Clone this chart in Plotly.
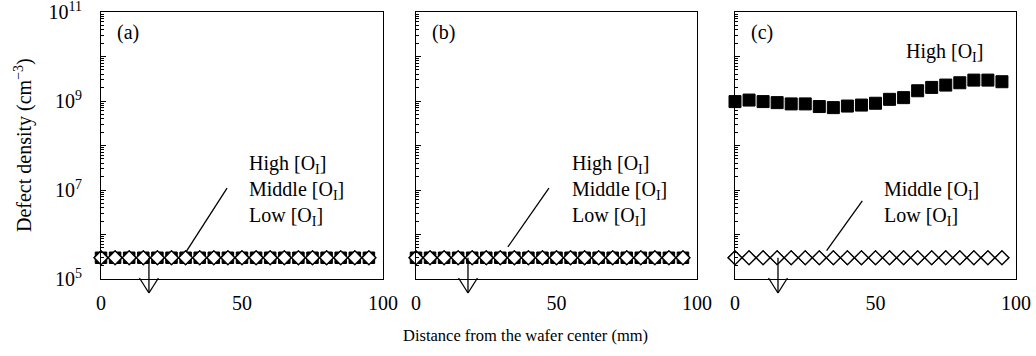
import math
import plotly.graph_objects as go

# ---------------- data ----------------
distance_mm = [0, 5, 10, 15, 20, 25, 30, 35, 40, 45, 50, 55, 60, 65, 70, 75, 80, 85, 90, 95]

a_high = [3.0e5, 3.0e5, 3.0e5, 3.0e5, 3.0e5, 3.0e5, 3.0e5, 3.0e5, 3.0e5, 3.0e5,
          3.0e5, 3.0e5, 3.0e5, 3.0e5, 3.0e5, 3.0e5, 3.0e5, 3.0e5, 3.0e5, 3.0e5]
a_middle = list(a_high)
a_low = list(a_high)

b_high = [3.0e5, 3.0e5, 3.0e5, 3.0e5, 3.0e5, 3.0e5, 3.0e5, 3.0e5, 3.0e5, 3.0e5,
          3.0e5, 3.0e5, 3.0e5, 3.0e5, 3.0e5, 3.0e5, 3.0e5, 3.0e5, 3.0e5, 3.0e5]
b_middle = list(b_high)
b_low = list(b_high)

c_high = [9.7e8, 1.05e9, 9.7e8, 9.2e8, 8.6e8, 8.6e8, 7.5e8, 7.1e8, 7.7e8, 8.1e8,
          8.9e8, 1.09e9, 1.19e9, 1.7e9, 2.02e9, 2.28e9, 2.57e9, 2.95e9, 2.95e9, 2.71e9]
c_middle = [3.0e5, 3.0e5, 3.0e5, 3.0e5, 3.0e5, 3.0e5, 3.0e5, 3.0e5, 3.0e5, 3.0e5,
            3.0e5, 3.0e5, 3.0e5, 3.0e5, 3.0e5, 3.0e5, 3.0e5, 3.0e5, 3.0e5, 3.0e5]
c_low = list(c_middle)

panel_labels = ["(a)", "(b)", "(c)"]
arrow_x_mm = [17, 18.5, 15.3]
arrow_from = [3.0e5, 3.0e5, 3.0e5]

x_range = [0, 100]
y_log_range = [5, 11]
x_tickvals = [0, 50, 100]
y_tickvals = [1e5, 1e6, 1e7, 1e8, 1e9, 1e10, 1e11]
y_ticktext = ["10<sup>5</sup>", "", "10<sup>7</sup>", "", "10<sup>9</sup>", "", "10<sup>11</sup>"]
y_minor = [k * 10 ** n for n in range(5, 11) for k in range(2, 10)]

FONT = "Liberation Serif, Times New Roman, serif"
FS = 20

# ---------------- layout geometry ----------------
W, H = 1036, 356
x_domains = [[101 / W, 383 / W], [416 / W, 697 / W], [735 / W, 1016 / W]]
y_domain = [1 - 279 / H, 1 - 12 / H]
pad = 1e-4

fig = go.Figure()

panels = [
    (a_high, a_middle, a_low),
    (b_high, b_middle, b_low),
    (c_high, c_middle, c_low),
]

for i, (hi, mid, lo) in enumerate(panels):
    sfx = "" if i == 0 else str(i + 1)
    xa, ya = "x" + sfx, "y" + sfx
    fig.add_trace(go.Scatter(
        x=distance_mm, y=hi, mode="markers", xaxis=xa, yaxis=ya,
        marker=dict(symbol="square", size=12 if i == 2 else 11.5, color="black",
                    line=dict(color="black", width=1)),
        cliponaxis=False, showlegend=False, name="High [OI]"))
    fig.add_trace(go.Scatter(
        x=distance_mm, y=mid, mode="markers", xaxis=xa, yaxis=ya,
        marker=dict(symbol="diamond", size=10.6, color="white",
                    line=dict(color="black", width=1.3)),
        cliponaxis=False, showlegend=False, name="Middle [OI]"))
    fig.add_trace(go.Scatter(
        x=distance_mm, y=lo, mode="markers", xaxis=xa, yaxis=ya,
        marker=dict(symbol="diamond", size=10.6, color="white",
                    line=dict(color="black", width=1.3)),
        cliponaxis=False, showlegend=False, name="Low [OI]"))

axis_common = dict(showline=True, linecolor="black", linewidth=1, mirror=True,
                   showgrid=False, zeroline=False, automargin=False)

for i in range(3):
    sfx = "" if i == 0 else str(i + 1)
    fig.update_layout(**{
        "xaxis" + sfx: dict(
            axis_common, domain=x_domains[i], range=[x_range[0], x_range[1] + 0.001],
            anchor="y" + sfx,
            tickmode="array", tickvals=x_tickvals, ticks="",
            ticklabelstandoff=6, ticklabeloverflow="allow",
            tickfont=dict(family=FONT, size=FS, color="black")),
        "yaxis" + sfx: dict(
            axis_common, domain=y_domain, type="log",
            range=[y_log_range[0] - pad, y_log_range[1] + pad],
            anchor="x" + sfx,
            tickmode="array", tickvals=y_tickvals, ticktext=y_ticktext,
            ticks="inside", ticklen=5, tickcolor="black", tickwidth=1,
            showticklabels=(i == 0), ticklabelstandoff=14, ticklabeloverflow="allow",
            minor=dict(tickmode="array", tickvals=y_minor, ticks="inside",
                       ticklen=3, tickcolor="black", tickwidth=1),
            tickfont=dict(family=FONT, size=FS, color="black")),
    })

shapes = []
annotations = []


def xfrac(v):
    return (v - x_range[0]) / (x_range[1] - x_range[0])


def yfrac(v):
    return (math.log10(v) - y_log_range[0]) / (y_log_range[1] - y_log_range[0])


line_style = dict(color="black", width=1.3)
# pointer lines (domain fractions of each panel)
pointer_lines = [
    (0.301, 0.101, 0.447, 0.340),
    (0.327, 0.120, 0.473, 0.340),
    (0.326, 0.106, 0.453, 0.293),
]
text_pos = [(0.518, 0.333), (0.548, 0.333), (0.523, 0.284)]
text_content = [
    "High [O<sub>I</sub>]<br>Middle [O<sub>I</sub>]<br>Low [O<sub>I</sub>]",
    "High [O<sub>I</sub>]<br>Middle [O<sub>I</sub>]<br>Low [O<sub>I</sub>]",
    "Middle [O<sub>I</sub>]<br>Low [O<sub>I</sub>]",
]

for i in range(3):
    sfx = "" if i == 0 else str(i + 1)
    xr, yr = "x" + sfx + " domain", "y" + sfx + " domain"
    # arrow: vertical shaft
    ax = xfrac(arrow_x_mm[i])
    y0 = yfrac(arrow_from[i])
    tip = -14 / 267.5
    arm_top = 1 / 267.5
    half = 9.5 / 282
    shapes.append(dict(type="line", xref=xr, yref=yr, x0=ax, x1=ax, y0=y0, y1=tip,
                       line=line_style, layer="above"))
    shapes.append(dict(type="line", xref=xr, yref=yr, x0=ax - half, x1=ax, y0=arm_top, y1=tip,
                       line=line_style, layer="above"))
    shapes.append(dict(type="line", xref=xr, yref=yr, x0=ax + half, x1=ax, y0=arm_top, y1=tip,
                       line=line_style, layer="above"))
    # pointer line
    px0, py0, px1, py1 = pointer_lines[i]
    shapes.append(dict(type="line", xref=xr, yref=yr, x0=px0, y0=py0, x1=px1, y1=py1,
                       line=line_style, layer="above"))
    # panel label
    annotations.append(dict(text=panel_labels[i], xref=xr, yref=yr, x=14 / 282, y=1 - 21 / 267.5,
                            xanchor="left", yanchor="middle", showarrow=False,
                            font=dict(family=FONT, size=FS, color="black")))
    # series text
    tx, ty = text_pos[i]
    annotations.append(dict(text=text_content[i], xref=xr, yref=yr, x=tx, y=ty,
                            xanchor="left", yanchor="middle", align="left", showarrow=False,
                            font=dict(family=FONT, size=FS, color="black")))

annotations.append(dict(text="High [O<sub>I</sub>]", xref="x3 domain", yref="y3 domain",
                        x=0.60, y=0.849, xanchor="left", yanchor="middle", showarrow=False,
                        font=dict(family=FONT, size=FS, color="black")))

annotations.append(dict(text="Defect density (cm<sup>\u22123</sup>)", xref="paper", yref="paper",
                        x=24 / W, y=1 - 145 / H, textangle=-90, xanchor="center", yanchor="middle",
                        showarrow=False, font=dict(family=FONT, size=20, color="black")))
annotations.append(dict(text="Distance from the wafer center (mm)", xref="paper", yref="paper",
                        x=525 / W, y=1 - 335 / H, xanchor="center", yanchor="middle",
                        showarrow=False, font=dict(family=FONT, size=16.5, color="black")))

fig.update_layout(
    width=W, height=H,
    margin=dict(l=0, r=0, t=0, b=0),
    paper_bgcolor="white", plot_bgcolor="white",
    showlegend=False,
    shapes=shapes, annotations=annotations,
    font=dict(family=FONT, size=FS, color="black"),
)

fig.write_html("out.html")
